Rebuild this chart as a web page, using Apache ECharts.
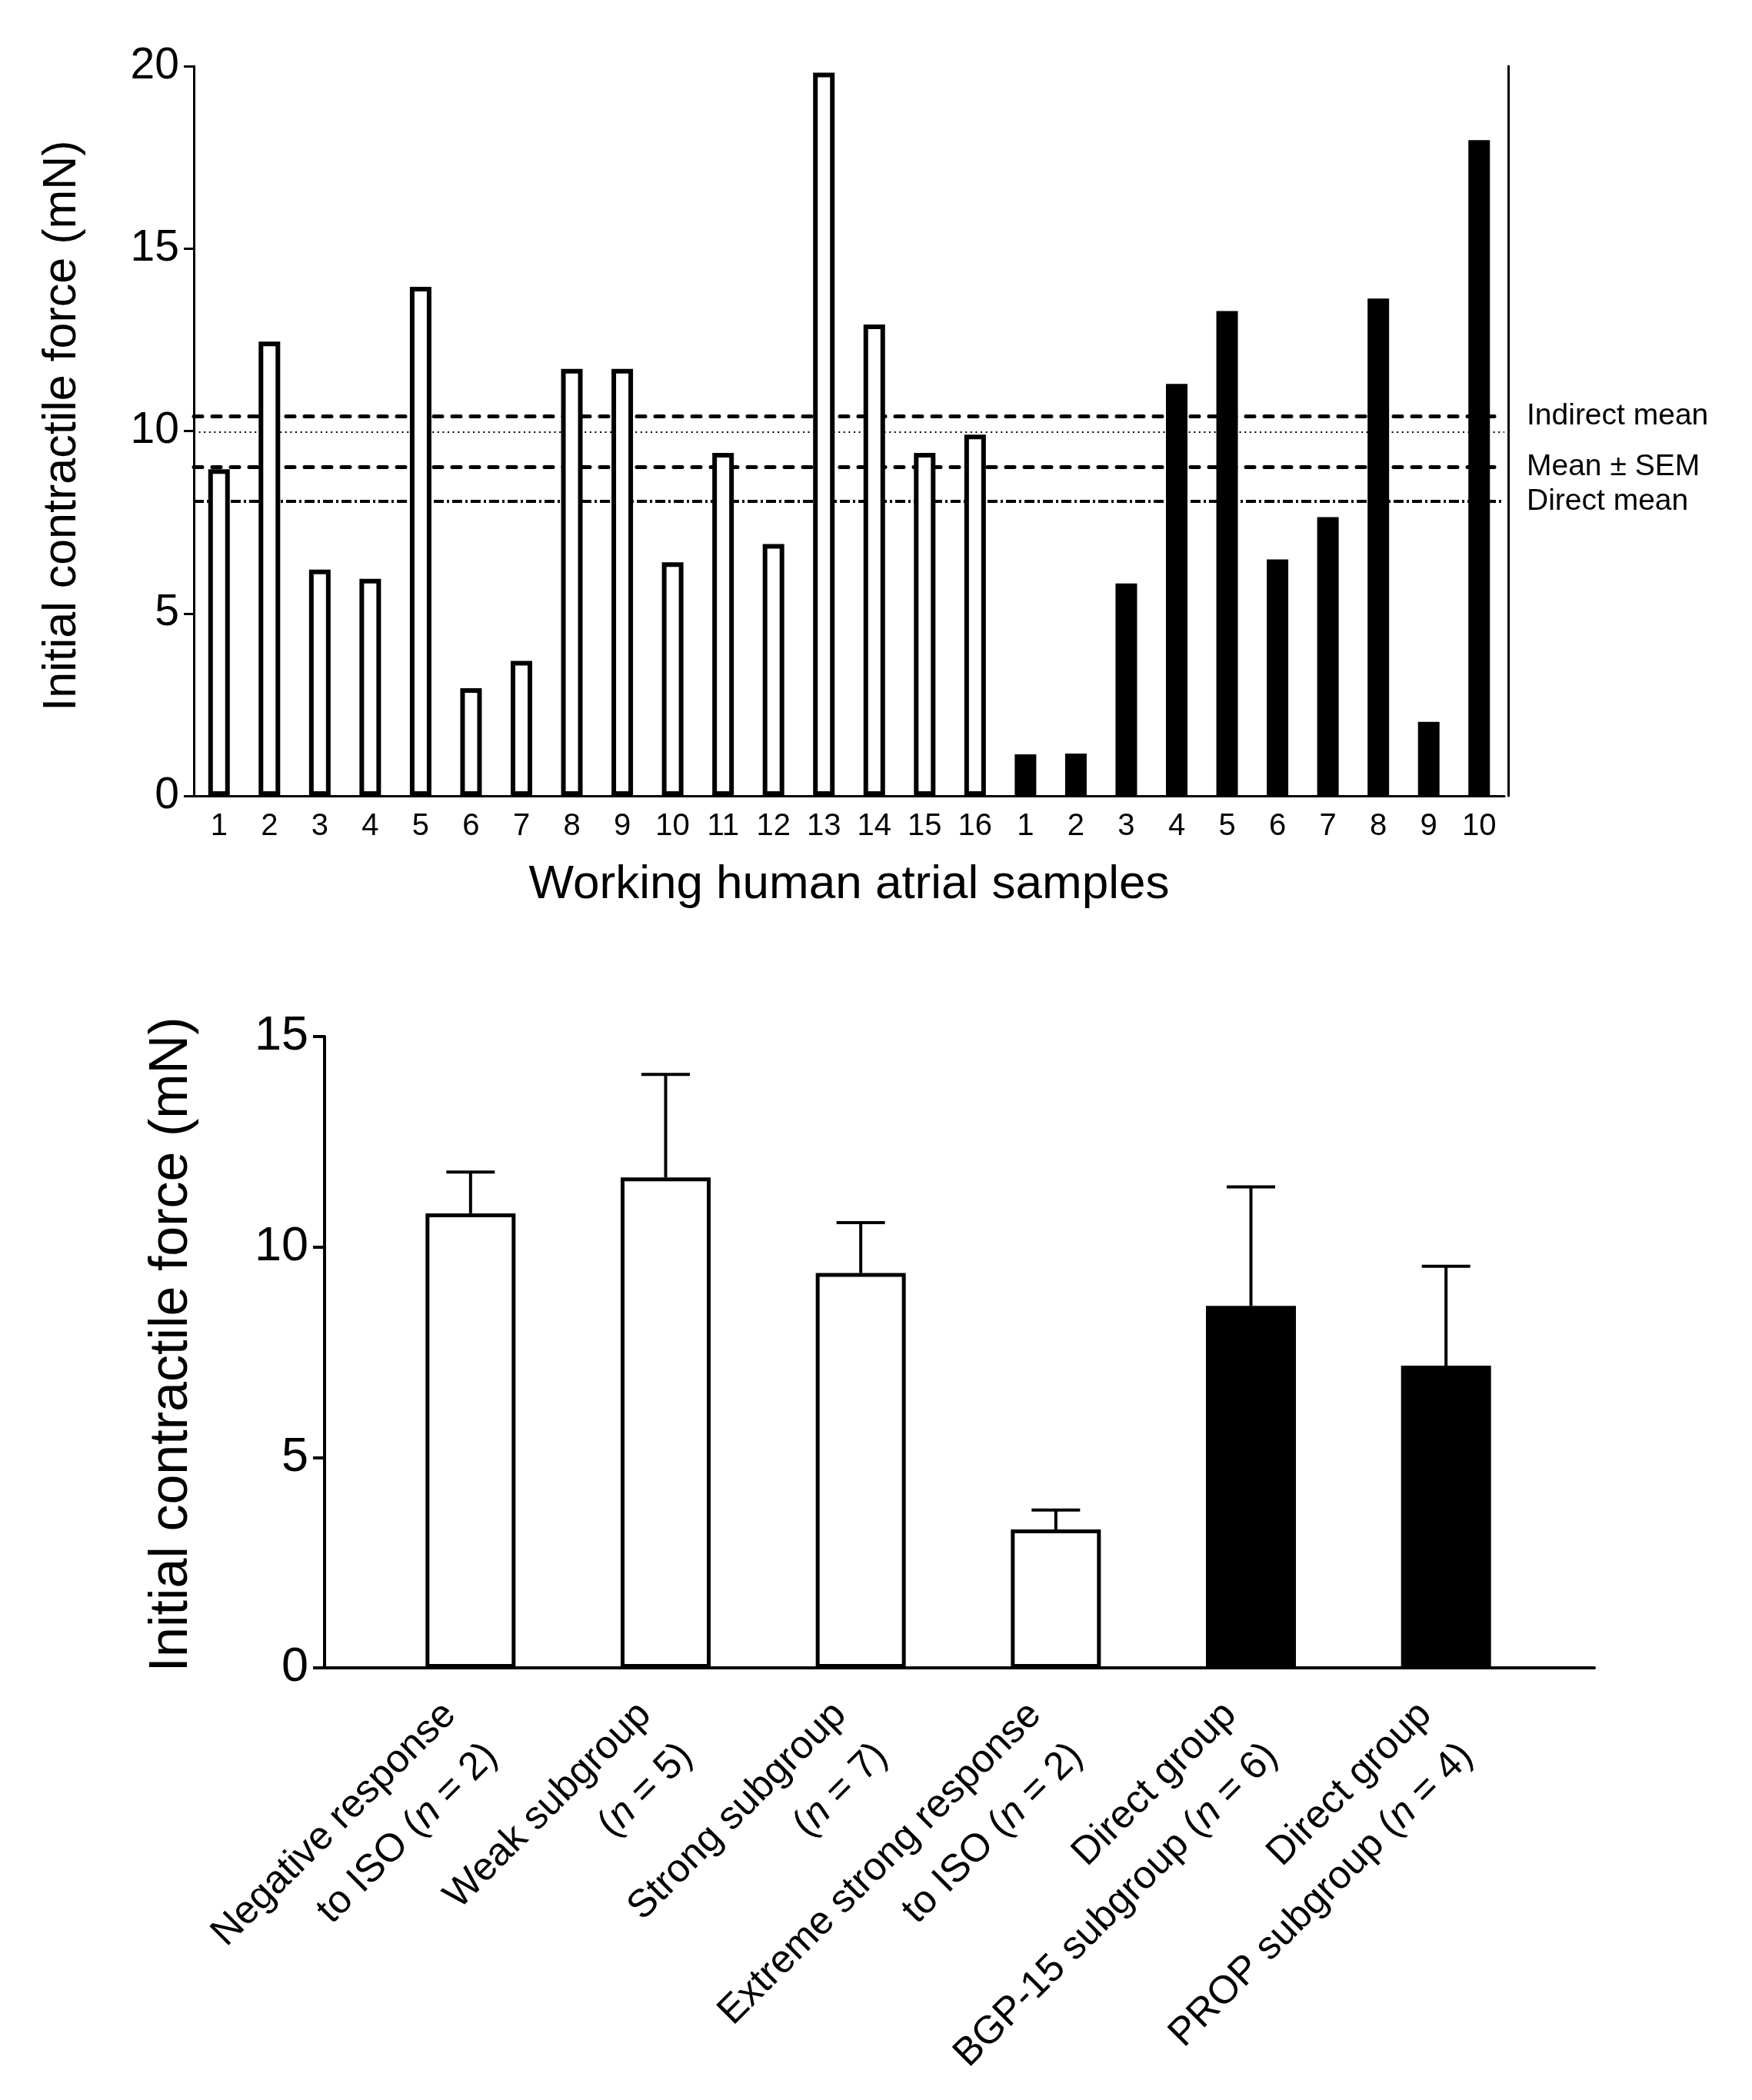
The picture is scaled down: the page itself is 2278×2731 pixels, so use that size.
<!DOCTYPE html>
<html>
<head>
<meta charset="utf-8">
<script src="https://cdn.jsdelivr.net/npm/echarts@6/dist/echarts.min.js"></script>
<style>
html,body{margin:0;padding:0;background:#fff;}
#c{width:2278px;height:2731px;}
</style>
</head>
<body>
<div id="c"></div>
<script>
// ---------- Data: top panel ----------
const sampleLabels = ['1','2','3','4','5','6','7','8','9','10','11','12','13','14','15','16',
                      '1','2','3','4','5','6','7','8','9','10'];
const indirectForce = [8.95, 12.45, 6.2, 5.95, 13.95, 2.95, 3.7, 11.7, 11.7, 6.4, 9.4, 6.9, 19.82, 12.92, 9.4, 9.9];
const directForce = [1.14, 1.16, 5.82, 11.29, 13.29, 6.48, 7.64, 13.63, 2.03, 17.97];
const refLineValues = [10.41, 9.98, 9.02, 8.07];
const refLineLabels = ['Indirect mean', '', 'Mean \u00b1 SEM', 'Direct mean'];
const topTicks = [0, 5, 10, 15, 20];

// ---------- Data: bottom panel ----------
const groupLabels = [
  'Negative response\nto ISO ({i|n} = 2)',
  'Weak subgroup\n({i|n} = 5)',
  'Strong subgroup\n({i|n} = 7)',
  'Extreme strong response\nto ISO ({i|n} = 2)',
  'Direct group\nBGP-15 subgroup ({i|n} = 6)',
  'Direct group\nPROP subgroup ({i|n} = 4)'
];
const groupMeans = [10.8, 11.65, 9.38, 3.29, 8.6, 7.18];
const groupSEM = [0.98, 2.45, 1.2, 0.46, 2.83, 2.36];
const groupFilled = [false, false, false, false, true, true];
const bottomTicks = [0, 5, 10, 15];

// ---------- Build ----------
const FONT = '"Liberation Sans", Arial, Helvetica, sans-serif';
const nInd = indirectForce.length;
const sampleIds = sampleLabels.map((l, i) => (i < nInd ? 'I' : 'D') + l);
const indirectData = sampleIds.map((_, i) => i < nInd ? indirectForce[i] : null);
const directData = sampleIds.map((_, i) => i >= nInd ? directForce[i - nInd] : null);

const refStyles = [
  {type: [11, 13], width: 5, cap: 'round'},
  {type: [2, 4.6], width: 2, cap: 'butt'},
  {type: [11, 13], width: 5, cap: 'round'},
  {type: [13, 4, 3, 4], width: 4, cap: 'butt'}
];

const chart = echarts.init(document.getElementById('c'));
const option = {
  animation: false,
  backgroundColor: '#fff',
  textStyle: {fontFamily: FONT, color: '#000'},
  grid: [
    {left: 252, top: 86, width: 1704, height: 949},
    {left: 422, top: 1348, width: 1651, height: 821},
    {left: 485, top: 1348, width: 1522, height: 821}
  ],
  xAxis: [
    {
      gridIndex: 0, type: 'category', data: sampleIds,
      axisLine: {show: true, lineStyle: {color: '#000', width: 3}},
      axisTick: {show: false},
      axisLabel: {interval: 0, fontSize: 40, color: '#000', margin: 20, fontFamily: FONT,
                  formatter: (v, i) => sampleLabels[i]},
      splitLine: {show: false},
      name: 'Working human atrial samples', nameLocation: 'middle', nameGap: 85,
      nameTextStyle: {fontSize: 62, color: '#000', fontFamily: FONT}
    },
    {
      gridIndex: 1, type: 'value', min: 0, max: 1,
      axisLine: {show: true, onZero: false, lineStyle: {color: '#000', width: 4}},
      axisTick: {show: false}, axisLabel: {show: false}, splitLine: {show: false}
    },
    {
      gridIndex: 2, type: 'category', data: groupLabels,
      axisLine: {show: false}, axisTick: {show: false}, splitLine: {show: false},
      axisLabel: {
        interval: 0, rotate: 45, fontSize: 51, lineHeight: 76, margin: 80,
        color: '#000', fontFamily: FONT,
        rich: {i: {fontStyle: 'italic', fontSize: 51, lineHeight: 76, color: '#000', fontFamily: FONT}}
      }
    }
  ],
  yAxis: [
    {
      gridIndex: 0, type: 'value', min: topTicks[0], max: topTicks[topTicks.length - 1], interval: 5,
      axisLine: {show: true, lineStyle: {color: '#000', width: 3}},
      axisTick: {show: true, length: 13, lineStyle: {color: '#000', width: 3}},
      axisLabel: {fontSize: 57, margin: 19, color: '#000', fontFamily: FONT},
      splitLine: {show: false},
      name: 'Initial contractile force (mN)', nameLocation: 'middle', nameGap: 140,
      nameTextStyle: {fontSize: 61, color: '#000', fontFamily: FONT, padding: [0, 0, 0, 14]}
    },
    {
      gridIndex: 0, type: 'value', position: 'right', offset: 5,
      min: topTicks[0], max: topTicks[topTicks.length - 1], interval: 5,
      axisLine: {show: true, lineStyle: {color: '#000', width: 3}},
      axisTick: {show: false}, axisLabel: {show: false}, splitLine: {show: false}
    },
    {
      gridIndex: 1, type: 'value', min: bottomTicks[0], max: bottomTicks[bottomTicks.length - 1], interval: 5,
      axisLine: {show: true, lineStyle: {color: '#000', width: 4}},
      axisTick: {show: true, length: 15, lineStyle: {color: '#000', width: 4}},
      axisLabel: {fontSize: 63, margin: 21, color: '#000', fontFamily: FONT},
      splitLine: {show: false},
      name: 'Initial contractile force (mN)', nameLocation: 'middle', nameGap: 163,
      nameTextStyle: {fontSize: 70, color: '#000', fontFamily: FONT, padding: [0, 0, 0, 20]}
    },
    {
      gridIndex: 2, type: 'value', min: bottomTicks[0], max: bottomTicks[bottomTicks.length - 1], show: false,
      splitLine: {show: false}
    }
  ],
  series: [
    {
      type: 'line', xAxisIndex: 0, yAxisIndex: 0, data: sampleIds.map(() => null),
      showSymbol: false, silent: true, z: 1,
      markLine: {
        z: 1, silent: true, animation: false, symbol: ['none', 'none'],
        data: refLineValues.map((v, i) => ({
          yAxis: v,
          lineStyle: {color: '#000', type: refStyles[i].type, width: refStyles[i].width, cap: refStyles[i].cap},
          label: {
            show: refLineLabels[i] !== '', position: 'end', distance: 29,
            formatter: refLineLabels[i] || ' ', fontSize: 39, color: '#000', fontFamily: FONT
          }
        }))
      }
    },
    {
      name: 'Indirect', type: 'bar', xAxisIndex: 0, yAxisIndex: 0, data: indirectData,
      barWidth: 28, barGap: '-100%', z: 3,
      itemStyle: {color: '#fff', borderColor: '#000', borderWidth: 6}
    },
    {
      name: 'Direct', type: 'bar', xAxisIndex: 0, yAxisIndex: 0, data: directData,
      barWidth: 28, barGap: '-100%', z: 3,
      itemStyle: {color: '#000', borderColor: '#000', borderWidth: 6}
    },
    {
      name: 'Groups', type: 'bar', xAxisIndex: 2, yAxisIndex: 3, barWidth: 117, z: 3,
      data: groupMeans.map((m, i) => ({
        value: m,
        itemStyle: {color: groupFilled[i] ? '#000' : '#fff', borderColor: '#000', borderWidth: 5}
      }))
    },
    {
      name: 'SEM', type: 'custom', xAxisIndex: 2, yAxisIndex: 3, z: 4,
      data: groupMeans.map((m, i) => [i, m, groupSEM[i]]),
      encode: {x: 0, y: 1},
      renderItem: (params, api) => {
        const i = api.value(0), m = api.value(1), s = api.value(2);
        const p0 = api.coord([i, m]);
        const p1 = api.coord([i, m + s]);
        const hw = 31.5;
        return {
          type: 'group',
          children: [
            {type: 'line', shape: {x1: p0[0], y1: p0[1], x2: p1[0], y2: p1[1]},
             style: {stroke: '#000', lineWidth: 4}},
            {type: 'line', shape: {x1: p1[0] - hw, y1: p1[1], x2: p1[0] + hw, y2: p1[1]},
             style: {stroke: '#000', lineWidth: 4}}
          ]
        };
      }
    }
  ]
};
chart.setOption(option);
</script>
</body>
</html>
